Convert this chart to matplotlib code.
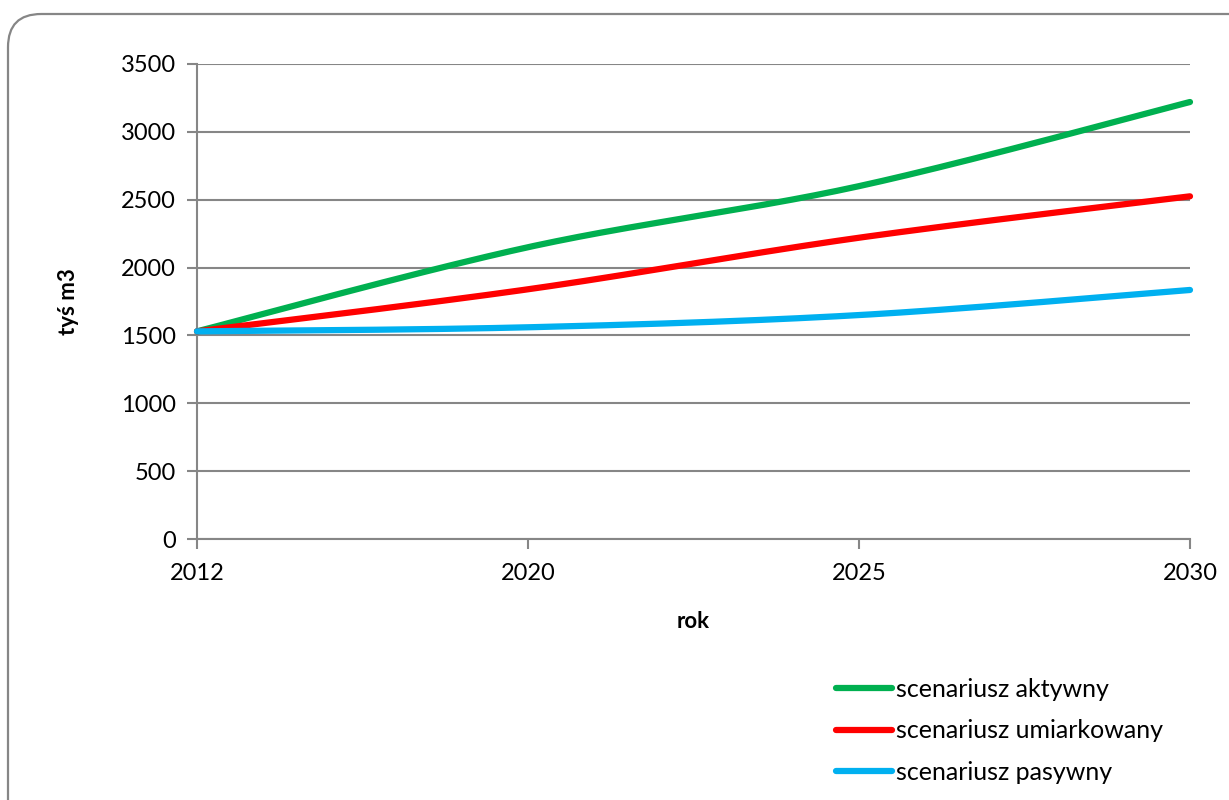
import numpy as np
import matplotlib
matplotlib.use("Agg")
import matplotlib.pyplot as plt
from matplotlib.patches import FancyBboxPatch

# Data
years = ["2012", "2020", "2025", "2030"]
aktywny = [1530, 2150, 2600, 3220]
umiarkowany = [1530, 1840, 2220, 2525]
pasywny = [1530, 1560, 1650, 1835]
series_labels = ["scenariusz aktywny", "scenariusz umiarkowany", "scenariusz pasywny"]
series_colors = ["#00B050", "#FF0000", "#00B0F0"]
y_ticks = [0, 500, 1000, 1500, 2000, 2500, 3000, 3500]

plt.rcParams["font.family"] = ["Lato", "DejaVu Sans"]


def smooth(xs, ys, n=60):
    """Piecewise cubic Bezier through the points (spreadsheet-style smoothing)."""
    pts = np.column_stack([xs, ys]).astype(float)
    m = len(pts)
    out = []
    for i in range(m - 1):
        p0 = pts[i - 1] if i > 0 else pts[i]
        p1 = pts[i]
        p2 = pts[i + 1]
        p3 = pts[i + 2] if i + 2 < m else pts[i + 1]
        c1 = p1 + (p2 - p0) / 6.0
        c2 = p2 - (p3 - p1) / 6.0
        t = np.linspace(0, 1, n)[:, None]
        seg = ((1 - t) ** 3) * p1 + 3 * ((1 - t) ** 2) * t * c1 + 3 * (1 - t) * t ** 2 * c2 + t ** 3 * p2
        out.append(seg if i == 0 else seg[1:])
    seg = np.vstack(out)
    return seg[:, 0], seg[:, 1]


W, H = 1229, 800
fig = plt.figure(figsize=(W / 100, H / 100), dpi=100)

# Rounded chart frame
frame = FancyBboxPatch((8 / W, -0.2), 1.3, (H - 14) / H + 0.2,
                       boxstyle="round,pad=0,rounding_size=0.027",
                       transform=fig.transFigure, facecolor="none",
                       edgecolor="#868686", linewidth=1.6, zorder=0,
                       mutation_aspect=W / H)
fig.patches.append(frame)

ax = fig.add_axes([197 / W, 1 - 539 / H, (1190 - 197) / W, (539 - 64) / H])
ax.set_facecolor("none")
ax.set_zorder(2)

x = np.arange(len(years))
for vals, lab, col in zip([aktywny, umiarkowany, pasywny], series_labels, series_colors):
    sx, sy = smooth(x, vals)
    ax.plot(sx, sy, color=col, linewidth=4.5, label=lab, solid_capstyle="round",
            zorder=3, clip_on=False)

ax.set_xlim(0, 3)
ax.set_ylim(0, 3500)
ax.set_yticks(y_ticks)
ax.set_xticks(x)
ax.set_xticklabels(years)

grid_col = "#868686"
ax.yaxis.grid(True, color=grid_col, linewidth=1.5)
ax.set_axisbelow(True)
for s in ["top", "right"]:
    ax.spines[s].set_visible(False)
for s in ["left", "bottom"]:
    ax.spines[s].set_color(grid_col)
    ax.spines[s].set_linewidth(1.5)
ax.tick_params(axis="both", colors=grid_col, labelcolor="black", labelsize=17,
               length=7, width=1.5, direction="out")
ax.tick_params(axis="y", pad=8)
ax.tick_params(axis="x", pad=10)

ax.set_xlabel("rok", fontsize=16, fontweight="bold", labelpad=20)
ax.set_ylabel("tyś m3", fontsize=16, fontweight="bold", labelpad=30)

fig.legend(loc="upper left", bbox_to_anchor=(836 / W, 1 - 678 / H), frameon=False,
           fontsize=18, handlelength=2.25, handletextpad=0.15, labelspacing=0.74,
           borderpad=0, borderaxespad=0)

fig.savefig("out.png", dpi=100)
